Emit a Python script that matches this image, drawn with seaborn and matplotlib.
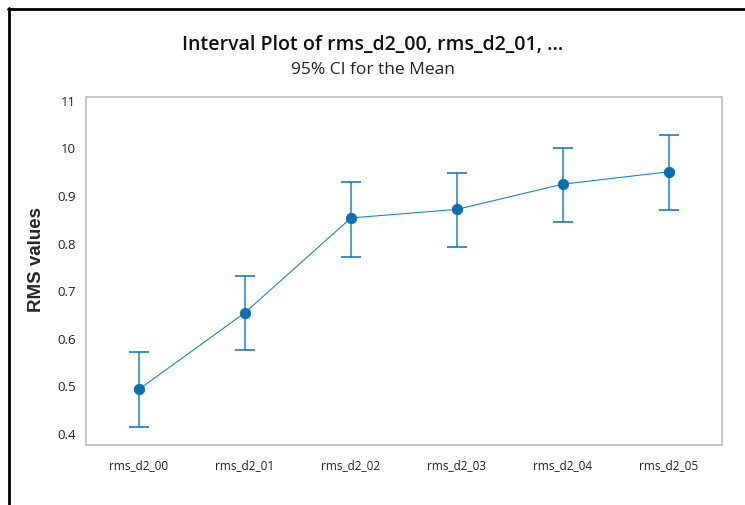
import matplotlib
matplotlib.use("Agg")
import matplotlib.pyplot as plt
import seaborn as sns
import pandas as pd
from matplotlib.lines import Line2D

# Interval data: mean and 95% CI bounds per variable
categories = ["rms_d2_00", "rms_d2_01", "rms_d2_02", "rms_d2_03", "rms_d2_04", "rms_d2_05"]
means = [0.494, 0.655, 0.854, 0.872, 0.925, 0.951]
ci_low = [0.415, 0.576, 0.772, 0.793, 0.846, 0.871]
ci_high = [0.573, 0.731, 0.930, 0.949, 1.001, 1.029]
yticks = [0.4, 0.5, 0.6, 0.7, 0.8, 0.9, 1.0, 1.1]
ytick_labels = ["0.4", "0.5", "0.6", "0.7", "0.8", "0.9", "10", "11"]

df = pd.DataFrame({"variable": categories, "mean": means,
                   "low": ci_low, "high": ci_high})

sns.set_style("white")
plt.rcParams["font.family"] = ["Open Sans", "DejaVu Sans"]

fig = plt.figure(figsize=(7.45, 5.05), dpi=100)
ax = fig.add_axes([86 / 745, 60 / 505, (722 - 86) / 745, (445 - 97) / 505])

mark_col = "#0a6fae"
bar_col = "#1a87c4"

# Confidence intervals
xpos = list(range(len(categories)))
ax.errorbar(xpos, df["mean"],
            yerr=[df["mean"] - df["low"], df["high"] - df["mean"]],
            fmt="none", ecolor=bar_col, elinewidth=1.1, capsize=7.5,
            capthick=1.1, zorder=2)

# Means connected by a line
sns.pointplot(data=df, x="variable", y="mean", order=categories, ax=ax,
              color=mark_col, markers="o", markersize=7.5, linewidth=0.8,
              errorbar=None, zorder=3)
for ln in ax.lines:
    ln.set_color(bar_col)
    ln.set_markerfacecolor(mark_col)
    ln.set_markeredgecolor(mark_col)

ax.set_xlim(-0.5, len(categories) - 0.5)
ax.set_ylim(0.377, 1.108)
ax.set_yticks(yticks)
ax.set_yticklabels(ytick_labels)
ax.set_xlabel("")
ax.set_ylabel("RMS values", fontsize=13.5, fontweight="bold",
              family=["Liberation Sans", "DejaVu Sans"])
ax.yaxis.set_label_coords(-0.064, 0.532)

for sp in ax.spines.values():
    sp.set_visible(True)
    sp.set_color("#bdbdbd")
    sp.set_linewidth(1.2)
ax.tick_params(axis="both", which="major", direction="out", length=4,
               width=0.8, color="#a0a0a0", labelcolor="#222222")
ax.tick_params(axis="y", pad=3, labelsize=9.5)
ax.tick_params(axis="x", pad=6, labelsize=8.5)

fig.text(0.5, 1 - 45 / 505, "Interval Plot of rms_d2_00, rms_d2_01, ...",
         ha="center", va="center", fontsize=14, fontweight="semibold",
         color="#111111")
fig.text(0.5, 1 - 70 / 505, "95% CI for the Mean",
         ha="center", va="center", fontsize=12.5, color="#222222")

# Outer frame lines along the top and left edges
fig.add_artist(Line2D([8 / 745, 1.0], [1 - 8.5 / 505, 1 - 8.5 / 505],
                      transform=fig.transFigure, color="black", linewidth=2))
fig.add_artist(Line2D([8.5 / 745, 8.5 / 745], [0.0, 1 - 8 / 505],
                      transform=fig.transFigure, color="black", linewidth=2))

fig.savefig("out.png", dpi=100)
